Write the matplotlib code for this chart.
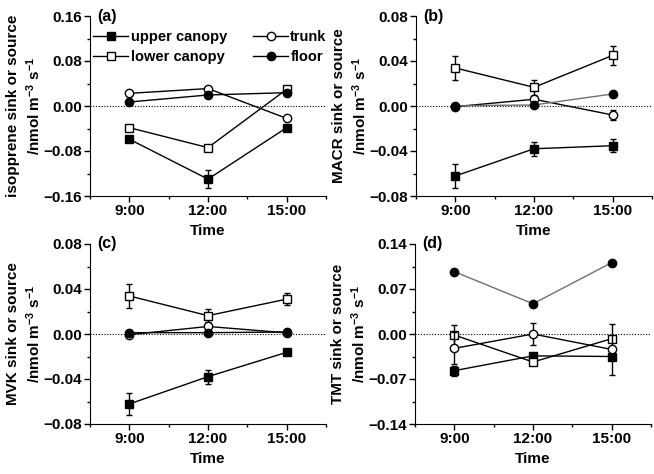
import matplotlib
matplotlib.use("Agg")
import matplotlib.pyplot as plt
from matplotlib.lines import Line2D
from matplotlib.ticker import MultipleLocator, FuncFormatter

plt.rcParams['font.family'] = ['Liberation Sans', 'DejaVu Sans']
plt.rcParams['font.weight'] = 'bold'
plt.rcParams['font.size'] = 11
plt.rcParams['mathtext.default'] = 'regular'

times = [9, 12, 15]
xticklabels = ["9:00", "12:00", "15:00"]
series_names = ["upper canopy", "lower canopy", "trunk", "floor"]

# (a) isoprene
iso_upper = [-0.059, -0.130, -0.0385]
iso_upper_err = [0.003, 0.0154, 0.003]
iso_lower = [-0.0385, -0.074, 0.0296]
iso_lower_err = [0.002, 0.003, 0.002]
iso_trunk = [0.0225, 0.031, -0.022]
iso_trunk_err = [0.004, 0.002, 0.002]
iso_floor = [0.0071, 0.0196, 0.0237]
iso_floor_err = [0.002, 0.002, 0.002]

# (b) MACR
macr_upper = [-0.0622, -0.038, -0.0353]
macr_upper_err = [0.0108, 0.0062, 0.0058]
macr_lower = [0.0338, 0.0166, 0.045]
macr_lower_err = [0.0107, 0.0067, 0.0084]
macr_trunk = [-0.0006, 0.006, -0.008]
macr_trunk_err = [0.001, 0.003, 0.0044]
macr_floor = [0.0003, 0.0009, 0.0107]
macr_floor_err = [0.001, 0.001, 0.001]

# (c) MVK
mvk_upper = [-0.0622, -0.0379, -0.0163]
mvk_upper_err = [0.010, 0.0062, 0.002]
mvk_lower = [0.0338, 0.0163, 0.031]
mvk_lower_err = [0.0108, 0.006, 0.0052]
mvk_trunk = [-0.0006, 0.0067, 0.001]
mvk_trunk_err = [0.001, 0.003, 0.001]
mvk_floor = [0.0012, 0.0012, 0.0018]
mvk_floor_err = [0.001, 0.001, 0.001]

# (d) TMT
tmt_upper = [-0.057, -0.034, -0.035]
tmt_upper_err = [0.008, 0.003, 0.003]
tmt_lower = [-0.0016, -0.0436, -0.0073]
tmt_lower_err = [0.015, 0.004, 0.003]
tmt_trunk = [-0.0223, 0.0, -0.024]
tmt_trunk_err = [0.025, 0.0166, 0.040]
tmt_floor = [0.097, 0.047, 0.111]
tmt_floor_err = [0.002, 0.002, 0.002]

panels = [
    dict(label="(a)", ylabel="isopprene sink or source", lim=0.16, major=0.08,
         data=[(iso_upper, iso_upper_err), (iso_lower, iso_lower_err),
               (iso_trunk, iso_trunk_err), (iso_floor, iso_floor_err)],
         floor_color="black"),
    dict(label="(b)", ylabel="MACR sink or source", lim=0.08, major=0.04,
         data=[(macr_upper, macr_upper_err), (macr_lower, macr_lower_err),
               (macr_trunk, macr_trunk_err), (macr_floor, macr_floor_err)],
         floor_color="#707070"),
    dict(label="(c)", ylabel="MVK sink or source", lim=0.08, major=0.04,
         data=[(mvk_upper, mvk_upper_err), (mvk_lower, mvk_lower_err),
               (mvk_trunk, mvk_trunk_err), (mvk_floor, mvk_floor_err)],
         floor_color="black"),
    dict(label="(d)", ylabel="TMT sink or source", lim=0.14, major=0.07,
         data=[(tmt_upper, tmt_upper_err), (tmt_lower, tmt_lower_err),
               (tmt_trunk, tmt_trunk_err), (tmt_floor, tmt_floor_err)],
         floor_color="#707070"),
]

styles = [
    dict(marker="s", mfc="black", ms=5.5),
    dict(marker="s", mfc="white", ms=5.5),
    dict(marker="o", mfc="white", ms=6),
    dict(marker="o", mfc="black", ms=6),
]

fig = plt.figure(figsize=(6.54, 4.74), dpi=100)
W, H = 654, 474
boxes = [(90, 16), (416, 16), (90, 244), (415, 244)]

fmt = FuncFormatter(lambda v, p: f"{v:.2f}".replace("-", "\u2212") if abs(v) > 1e-9 else "0.00")

for (x0, y0), p in zip(boxes, panels):
    ax = fig.add_axes([x0 / W, 1 - (y0 + 180) / H, 236 / W, 180 / H])
    ax.axhline(0, color="black", lw=0.8, ls=(0, (1, 1.5)), zorder=1)
    for i, ((vals, errs), st) in enumerate(zip(p["data"], styles)):
        lc = p["floor_color"] if i == 3 else "black"
        ax.errorbar(times, vals, yerr=errs, color=lc, ecolor="black",
                    lw=1, elinewidth=1, capsize=2.2, capthick=1,
                    marker=st["marker"], ms=st["ms"], mfc=st["mfc"],
                    mec="black", mew=1, zorder=3 + i)
    ax.set_xlim(7.5, 16.5)
    ax.set_ylim(-p["lim"], p["lim"])
    ax.set_xticks(times)
    ax.set_xticklabels(xticklabels)
    ax.xaxis.set_minor_locator(MultipleLocator(1.5))
    ax.yaxis.set_major_locator(MultipleLocator(p["major"]))
    ax.yaxis.set_minor_locator(MultipleLocator(p["major"] / 2))
    ax.yaxis.set_major_formatter(fmt)
    ax.spines["top"].set_visible(False)
    ax.spines["right"].set_visible(False)
    ax.tick_params(which="major", direction="out", length=4, width=1, labelsize=11)
    ax.tick_params(which="minor", direction="out", length=2, width=1)
    ax.tick_params(axis="x", which="major", pad=2)
    ax.tick_params(axis="y", which="major", pad=2)
    ax.set_xlabel("Time", fontsize=11, fontweight="bold", labelpad=4)
    ax.set_ylabel(p["ylabel"] + "\n/nmol m$^{-3}$ s$^{-1}$", fontsize=11,
                  fontweight="bold", labelpad=0, linespacing=1.3)
    ax.text(0.03, 1.0, p["label"], transform=ax.transAxes, ha="left", va="center",
            fontsize=11.5, fontweight="bold")
    if p["label"] == "(a)":
        handles = [Line2D([], [], color="black", lw=1, marker=st["marker"],
                          ms=st["ms"], mfc=st["mfc"], mec="black", mew=1)
                   for st in styles]
        ax.legend(handles, series_names, ncol=2, loc="upper left",
                  bbox_to_anchor=(-0.01, 0.955), frameon=False,
                  handlelength=2.4, handletextpad=0.15, columnspacing=1.8,
                  labelspacing=0.4, borderaxespad=0, fontsize=10.5)

fig.savefig("out.png", dpi=100)
